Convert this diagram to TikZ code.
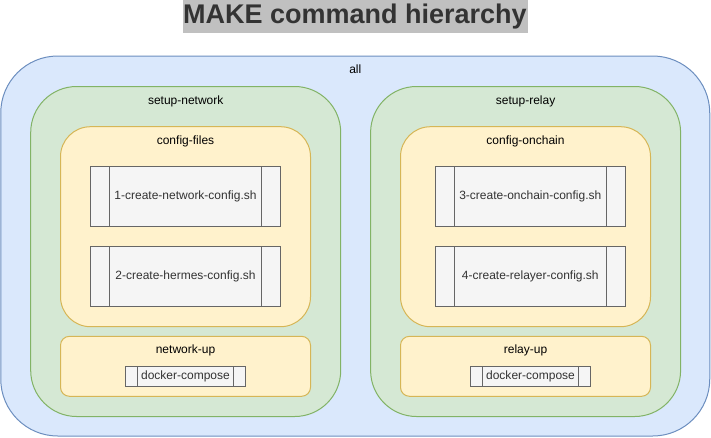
\documentclass[tikz,border=0pt]{standalone}
\usepackage{fontspec}
\setmainfont{Liberation Sans}
\usepackage{tikz}
\usetikzlibrary{calc}
\definecolor{allfill}{HTML}{DAE8FC}
\definecolor{alldraw}{HTML}{6C8EBF}
\definecolor{setupfill}{HTML}{D5E8D4}
\definecolor{setupdraw}{HTML}{82B366}
\definecolor{stepfill}{HTML}{FFF2CC}
\definecolor{stepdraw}{HTML}{D6B656}
\definecolor{procfill}{HTML}{F5F5F5}
\definecolor{procdraw}{HTML}{666666}
\definecolor{proctext}{HTML}{333333}
\definecolor{titlefill}{HTML}{C0C0C0}

\begin{document}
\begin{tikzpicture}[x=1pt,y=-1pt,
  every node/.style={font=\fontsize{12}{14}\selectfont},
  box/.style={draw,rectangle,inner sep=0pt,outer sep=0pt,line width=1pt},
  allbox/.style={box,fill=allfill,draw=alldraw,minimum width=709pt,minimum height=380pt,rounded corners=57pt},
  setupbox/.style={box,fill=setupfill,draw=setupdraw,minimum width=310pt,minimum height=330pt,rounded corners=46pt},
  cfgbox/.style={box,fill=stepfill,draw=stepdraw,minimum width=250pt,minimum height=200pt,rounded corners=30pt},
  upbox/.style={box,fill=stepfill,draw=stepdraw,minimum width=250pt,minimum height=60pt,rounded corners=9pt},
  proc/.style={box,fill=procfill,draw=procdraw,text=proctext,minimum width=190pt,minimum height=60pt},
  dproc/.style={proc,minimum width=120pt,minimum height=20pt},
  procline/.style={draw=procdraw,line width=1pt},
  lbl/.style={inner sep=0pt,anchor=base,text=black}]
      \useasboundingbox (0,0) rectangle (711,437);

      \node [fill=titlefill,text=proctext,inner sep=0pt,minimum width=345pt,minimum height=33pt,
             font=\bfseries\fontsize{27}{30}\selectfont] (title) at (355,16.5) {MAKE command hierarchy};

      \node [allbox] (all) at (355.25,246) {};
      \node [setupbox] (net) at (185.7,251.5) {};
      \node [setupbox] (relay) at (525.6,251.5) {};
      \node [cfgbox] (files) at (185.5,226.7) {};
      \node [cfgbox] (onchain) at (525.5,226.7) {};
      \node [upbox] (netup) at (185.5,366.3) {};
      \node [upbox] (relayup) at (525.5,366.3) {};

      \node [proc] (s1) at (185.5,196.3) {1-create-network-config.sh};
      \node [proc] (s2) at (185.5,276.3) {2-create-hermes-config.sh};
      \node [proc] (s3) at (530.3,196.3) {3-create-onchain-config.sh};
      \node [proc] (s4) at (530.3,276.3) {4-create-relayer-config.sh};
      \node [dproc] (dc1) at (185.5,376.2) {docker-compose};
      \node [dproc] (dc2) at (530.5,376.2) {docker-compose};

      \foreach \p in {s1,s2,s3,s4,dc1,dc2}
        \draw [procline] ($(\p.north west)!0.1!(\p.north east)$) -- ($(\p.south west)!0.1!(\p.south east)$)
                         ($(\p.north east)!0.1!(\p.north west)$) -- ($(\p.south east)!0.1!(\p.south west)$);

      \node [lbl] (allL) at ([yshift=-17.5pt]all.north) {all};
      \node [lbl] (netL) at ([yshift=-17.5pt]net.north) {setup-network};
      \node [lbl] (relayL) at ([yshift=-17.5pt]relay.north) {setup-relay};
      \node [lbl] (filesL) at ([yshift=-17.5pt]files.north) {config-files};
      \node [lbl] (onchainL) at ([yshift=-17.5pt]onchain.north) {config-onchain};
      \node [lbl] (netupL) at ([yshift=-17.5pt]netup.north) {network-up};
      \node [lbl] (relayupL) at ([yshift=-17.5pt]relayup.north) {relay-up};

  \end{tikzpicture}
\end{document}
